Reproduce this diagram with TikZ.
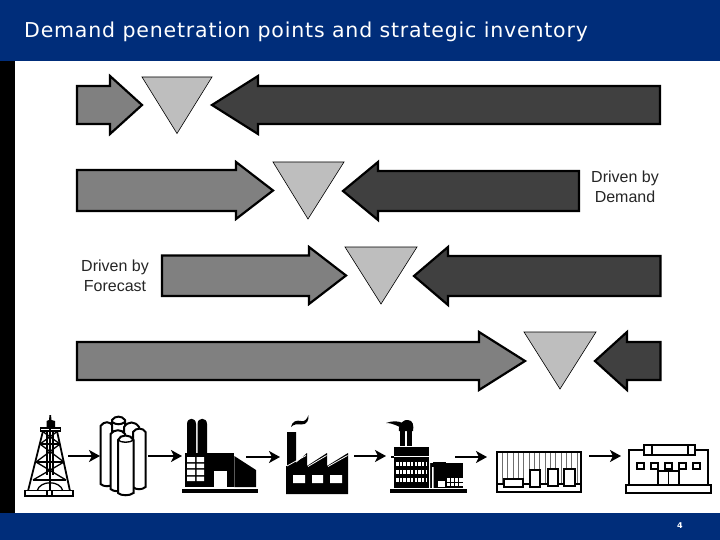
\documentclass[tikz,border=0pt]{standalone}
\usepackage{fontspec}
\setmainfont{Liberation Sans}
\newfontfamily\titlefont[LetterSpace=4]{DejaVu Sans}
\newfontfamily\numfont{DejaVu Sans}
\usetikzlibrary{arrows.meta}
\definecolor{navy}{RGB}{0,45,122}
\definecolor{rightgray}{RGB}{128,128,128}
\definecolor{leftgray}{RGB}{64,64,64}
\definecolor{trigray}{RGB}{190,190,190}
\definecolor{stripe}{RGB}{110,110,110}
\tikzset{
  x=1pt,y=-1pt,
  band/.style={fill=navy,draw=none},
  fwdarrow/.style={draw=black,line width=2.2pt,fill=rightgray,miter limit=10},
  backarrow/.style={draw=black,line width=2.2pt,fill=leftgray,miter limit=10},
  buffer/.style={draw=black,line width=0.6pt,fill=trigray},
  flow/.style={draw=black,line width=1.6pt,-{Stealth[length=11pt,width=12pt,inset=3pt]}},
  caption/.style={font=\fontsize{16}{20}\selectfont,align=center,text=black!85,inner sep=0pt},
  ink/.style={fill=black,draw=none},
  blank/.style={fill=white,draw=none},
  outline/.style={draw=black,line width=1.1pt,fill=white},
  wire/.style={draw=black,line width=1.3pt},
  tank/.style={draw=black,line width=2pt,fill=white},
}
\begin{document}
\begin{tikzpicture}
\useasboundingbox (0,0) rectangle (720,540);
\fill[white] (0,0) rectangle (720,540);
% frame
\fill[black] (0,61) rectangle (15,513);
\fill[band] (0,0) rectangle (720,61);
\fill[band] (0,513) rectangle (720,540);
\node[anchor=base west,inner sep=0pt,text=white,font=\titlefont\fontsize{20.5}{24}\selectfont] (title) at (24,38) {Demand penetration points and strategic inventory};
\node[text=white,inner sep=0pt,font=\numfont\bfseries\fontsize{8}{10}\selectfont] (page) at (680,526) {4};

% row 1
\draw[fwdarrow] (77,86) -- (110,86) -- (110,76) -- (142,105) -- (110,134) -- (110,124) -- (77,124) -- cycle;
\draw[buffer] (142,77) -- (212,77) -- (177,133.5) -- cycle;
\draw[backarrow] (660,86) -- (258,86) -- (258,76) -- (212,105) -- (258,134) -- (258,124) -- (660,124) -- cycle;
% row 2
\draw[fwdarrow] (77,170) -- (236,170) -- (236,162) -- (273,190.5) -- (236,219) -- (236,211) -- (77,211) -- cycle;
\draw[buffer] (273,162) -- (344,162) -- (308,219) -- cycle;
\draw[backarrow] (579,171) -- (378,171) -- (378,162) -- (343,191) -- (378,220) -- (378,211) -- (579,211) -- cycle;
\node[caption] (demand) at (625,187) {Driven by\\Demand};
% row 3
\node[caption] (forecast) at (115,276) {Driven by\\Forecast};
\draw[fwdarrow] (162,255.5) -- (309,255.5) -- (309,247) -- (346,275.5) -- (309,304) -- (309,296) -- (162,296) -- cycle;
\draw[buffer] (345,247) -- (417,247) -- (381,304) -- cycle;
\draw[backarrow] (660.5,256) -- (448,256) -- (448,247) -- (414,276) -- (448,305) -- (448,296) -- (660.5,296) -- cycle;
% row 4
\draw[fwdarrow] (77,342) -- (479,342) -- (479,332) -- (525,361) -- (479,390) -- (479,380) -- (77,380) -- cycle;
\draw[buffer] (524,332) -- (596,332) -- (560,389) -- cycle;
\draw[backarrow] (660.5,342) -- (627,342) -- (627,332) -- (595,361) -- (627,390) -- (627,380) -- (660.5,380) -- cycle;

% derrick
\fill[ink] (46.5,428) -- (46.5,421) -- (49,420) -- (49.5,415) -- (51,415) -- (51.5,420) -- (55,421) -- (55,428) -- cycle;
\draw[wire,line width=1.6pt] (40.5,428) rectangle (60.5,431);
\draw[wire,line width=1.8pt] (28,491) -- (43,431) (70,491) -- (57,431);
\draw[wire] (50,428) -- (50,491) (47,431) -- (47,475) (53,431) -- (53,475);
\draw[wire] (40,444) -- (60,444) (36,462) -- (64,462);
\draw[wire,line width=1.8pt] (33,480) -- (66,480);
\draw[wire] (42,431) -- (60,444) (58,431) -- (40,444) (40,444) -- (64,462) (60,444) -- (36,462) (36,462) -- (66,480) (64,462) -- (33,480);
\draw[wire] (37,491) .. controls (40,480) and (60,480) .. (63,491);
\draw[outline,line width=1.4pt] (25,490.5) rectangle (73,496);
\draw[wire,line width=1.4pt] (47,491) -- (47,496) (52,491) -- (52,496);
\coordinate (derrick) at (68,456);

% tanks
\draw[tank] (100.5,426) -- (100.5,484) .. controls (104,487) and (110,487) .. (113,484) -- (113,426) .. controls (110,421) and (104,421) .. cycle;
\draw[tank] (112,420) .. controls (115,415.5) and (122,415.5) .. (125,420) -- (125,450) -- (112,450) -- cycle;
\draw[tank] (112,422) .. controls (116,425) and (121,425) .. (125,422);
\draw[tank] (124,427) .. controls (128,421) and (135,421) .. (139,427) -- (139,470) -- (124,470) -- cycle;
\draw[tank] (133,432) .. controls (136,427.5) and (143,427.5) .. (145.5,432) -- (145.5,487) .. controls (142,490) and (136,490) .. (133,487) -- cycle;
\draw[tank] (110.5,434) .. controls (114,429) and (122,429) .. (125,434) -- (125,489) .. controls (120,492) and (114,492) .. (110.5,489) -- cycle;
\draw[tank] (118,440) .. controls (120,434) and (131,434) .. (133.5,440) -- (133.5,493) .. controls (130,496) and (121,496) .. (118,493) -- cycle;
\draw[tank,line width=1.4pt] (118,440) .. controls (121,443) and (130,443) .. (133.5,440);
\coordinate (tanksin) at (100,456);
\coordinate (tanksout) at (148,456);

% factory one
\fill[ink] (187,453) -- (187,424) .. controls (187,417) and (196,417) .. (196,424) -- (196,453) -- cycle;
\fill[ink] (197.5,453) -- (197.5,424) .. controls (197.5,417) and (207,417) .. (207,424) -- (207,453) -- cycle;
\fill[ink] (185,453) rectangle (233.5,487);
\fill[ink] (234.3,456) -- (256,470) -- (256,487) -- (234.3,487) -- cycle;
\fill[blank] (187,457) rectangle (195,462) (196.5,457) rectangle (204,462)
  (187,463.5) rectangle (195,468) (196.5,463.5) rectangle (204,468)
  (187,469.5) rectangle (195,475) (196.5,469.5) rectangle (204,475)
  (187,476.5) rectangle (195,481) (196.5,476.5) rectangle (204,481);
\fill[blank] (214,471) rectangle (227,487);
\fill[ink] (182,489) rectangle (258,493);
\coordinate (plantin) at (182,456);
\coordinate (plantout) at (280,457);
\coordinate (plantoutstart) at (246,457);

% factory two
\fill[ink] (287,432) -- (296,432) -- (296,463) -- (307,453) -- (307,466) -- (327,453) -- (327,466) -- (348,453) -- (348,494) -- (286,494) -- (286,466) -- (287,466) -- cycle;
\draw[white,line width=0.8pt] (287,466) -- (306,455.5) (308,466.5) -- (326.5,455.5) (328,466.5) -- (347.5,455.5);
\fill[blank] (293,475) rectangle (305,483) (312,475) rectangle (323,483) (330,475) rectangle (342,483);
\fill[ink] (291,427) .. controls (292,421) and (297,420) .. (301,421) .. controls (305,422) and (307,419) .. (308.5,415) .. controls (309,420) and (307,425) .. (301,424.5) .. controls (297,424) and (294,424) .. (291,427) -- cycle;
\coordinate (mill) at (354,456);
\coordinate (millin) at (386,456);

% factory three
\fill[ink] (400,430) rectangle (404.5,446);
\fill[ink] (406.5,430) rectangle (412,446);
\fill[ink] (399,431) .. controls (398,424) and (404,419) .. (408,420) .. controls (413,420) and (414,426) .. (413,431) -- cycle;
\fill[ink] (403,428) .. controls (398,427) and (394,423) .. (386,423) .. controls (392,421) and (398,420) .. (404,424) -- cycle;
\fill[ink] (394,447) rectangle (429,488);
\fill[ink] (391,456) rectangle (394,458);
\fill[ink] (430,463) rectangle (463,488);
\fill[ink] (433,462) rectangle (446,464);
\fill[blank] (429,463) rectangle (430,488) (432,467) rectangle (433.5,488);
\fill[blank] (438,481) rectangle (445,487);
\fill[blank] (447,478) rectangle (463,486);
\draw[black,line width=1pt] (447,482) -- (463,482) (450,478) -- (450,486) (454,478) -- (454,486) (458,478) -- (458,486);
\foreach \yy in {462,469.5,478}{
  \draw[white,line width=4pt,dash pattern=on 2.5pt off 1.2pt] (396,\yy+2) -- (427,\yy+2);
}
\draw[white,line width=0.8pt] (394,456) -- (429,456);
\fill[ink] (390,489) rectangle (467,493);
\coordinate (works) at (455,457);
\coordinate (worksin) at (487,457);

% warehouse
\fill[white] (497,452) rectangle (581,492);
\foreach \xx in {502,507.5,513,518.3,523.6,529,534.3,539.6,545,550.3,555.6,561,566.3,571.6,577}{
  \draw[stripe,line width=0.9pt] (\xx,452) -- (\xx,484);
}
\draw[wire,line width=1.1pt] (497,452) rectangle (581,492) (497,484) -- (581,484);
\draw[outline] (504,479) rectangle (523,487);
\draw[outline] (530,470) rectangle (540,487);
\draw[outline] (548,469) rectangle (558,486);
\draw[outline] (564,469) rectangle (575,486);
\coordinate (store) at (589,456);
\coordinate (shop) at (621,456);

% shop
\draw[outline] (629,450) rectangle (708,485);
\draw[outline] (626,485) rectangle (711,493);
\draw[outline] (644,445) rectangle (695,455);
\draw[wire,line width=1.1pt] (652,445) -- (652,455) (688,445) -- (688,455);
\draw[outline] (637,463) rectangle (644,469);
\draw[outline] (651,463) rectangle (658,469);
\draw[outline] (665,463) rectangle (672,469);
\draw[outline] (679,463) rectangle (686,469);
\draw[outline] (693,463) rectangle (700,469);
\draw[outline] (658,471) rectangle (679,485);
\draw[wire,line width=1.1pt] (668.5,471) -- (668.5,485);

% connectors
\draw[flow] (derrick) -- (tanksin);
\draw[flow] (tanksout) -- (plantin);
\draw[flow] (plantoutstart) -- (plantout);
\draw[flow] (mill) -- (millin);
\draw[flow] (works) -- (worksin);
\draw[flow] (store) -- (shop);
\end{tikzpicture}
\end{document}
